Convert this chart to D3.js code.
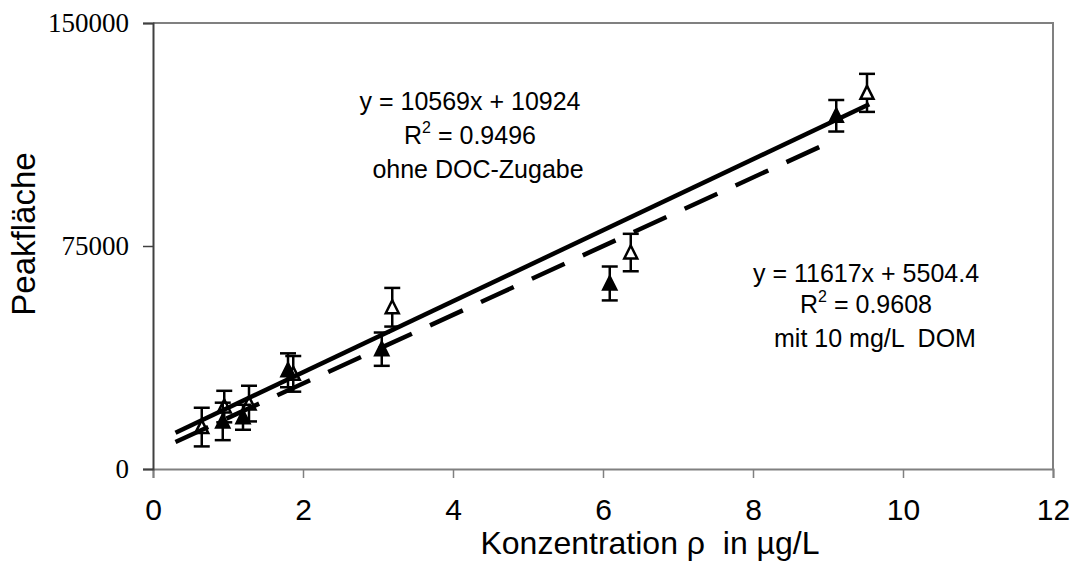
<!DOCTYPE html>
<html>
<head>
<meta charset="utf-8">
<script src="https://cdn.jsdelivr.net/npm/d3@7"></script>
<style>
  body { margin: 0; background: #fff; }
  text { fill: #000; }
</style>
</head>
<body>
<div id="chart"></div>
<script>
const mitX = [0.93, 1.2, 1.8, 3.05, 6.09, 9.11]
const mitY = [16000, 17400, 33200, 40300, 62400, 118800]
const mitErr = [6300, 4200, 5700, 5600, 5700, 5300]

const ohneX = [0.65, 0.95, 1.28, 1.87, 3.19, 6.37, 9.52]
const ohneY = [14100, 21000, 22000, 32000, 54400, 72800, 126500]
const ohneErr = [6500, 5300, 6000, 6000, 6500, 6300, 6400]

// trendline end points
const solidX = [0.3, 9.55]
const solidY = [12200, 122700]
const dashX = [0.3, 9.12]
const dashY = [9100, 111000]

const xTicks = [0, 2, 4, 6, 8, 10, 12]
const yTicks = [0, 75000, 150000]

const width = 1071
const height = 563
const plotLeft = 153, plotRight = 1053, plotTop = 23, plotBottom = 469

const xScale = d3.scaleLinear().domain([0, 12]).range([plotLeft, plotRight])
const yScale = d3.scaleLinear().domain([0, 150000]).range([plotBottom, plotTop])

const svg = d3.select('#chart')
	.append('svg')
	.attr('width', width)
	.attr('height', height)

// frame top/right
svg.append('path')
	.attr('d', `M${plotLeft},${plotTop}H${plotRight}V${plotBottom}`)
	.attr('fill', 'none')
	.attr('stroke', '#808080')
	.attr('stroke-width', 2)

const xAxis = d3.axisBottom(xScale).tickValues(xTicks).tickSize(9).tickPadding(21)
const yAxis = d3.axisLeft(yScale).tickValues(yTicks).tickSize(10).tickPadding(14)
	.tickFormat(d3.format('d'))

const gx = svg.append('g')
	.attr('class', 'x-axis')
	.attr('transform', `translate(0 ${plotBottom})`)
	.call(xAxis)
gx.select('.domain').attr('stroke', '#808080').attr('stroke-width', 2)
gx.selectAll('.tick line').attr('stroke', '#808080').attr('stroke-width', 1.5)
gx.selectAll('.tick text')
	.attr('font-family', 'Liberation Sans, Arial, sans-serif')
	.attr('font-size', 30)
	.attr('fill', '#000')

const gy = svg.append('g')
	.attr('class', 'y-axis')
	.attr('transform', `translate(${plotLeft} 0)`)
	.call(yAxis)
gy.select('.domain').attr('stroke', '#404040').attr('stroke-width', 2)
gy.selectAll('.tick line').attr('stroke', '#404040').attr('stroke-width', 1.5)
gy.selectAll('.tick text')
	.attr('font-family', 'Liberation Serif, Times New Roman, serif')
	.attr('font-size', 27)
	.attr('fill', '#000')

// axis titles
svg.append('text')
	.attr('transform', `translate(35 234) rotate(-90)`)
	.attr('text-anchor', 'middle')
	.attr('font-family', 'Liberation Sans, Arial, sans-serif')
	.attr('font-size', 33)
	.text('Peakfläche')

svg.append('text')
	.attr('x', 650)
	.attr('y', 554)
	.attr('text-anchor', 'middle')
	.attr('font-family', 'Liberation Sans, Arial, sans-serif')
	.attr('font-size', 32)
	.attr('xml:space', 'preserve')
	.text('Konzentration ρ  in µg/L')

// error bars + markers
function series(xs, ys, errs, filled, cls) {
	const data = xs.map((x, i) => ({ x: x, y: ys[i], e: errs[i] }))
	const g = svg.append('g').attr('class', cls)
	const cap = 8
	const bars = g.selectAll('g.bar').data(data).join('g').attr('class', 'bar')
	bars.append('line')
		.attr('x1', d => xScale(d.x)).attr('x2', d => xScale(d.x))
		.attr('y1', d => yScale(d.y + d.e)).attr('y2', d => yScale(d.y - d.e))
	bars.append('line')
		.attr('x1', d => xScale(d.x) - cap).attr('x2', d => xScale(d.x) + cap)
		.attr('y1', d => yScale(d.y + d.e)).attr('y2', d => yScale(d.y + d.e))
	bars.append('line')
		.attr('x1', d => xScale(d.x) - cap).attr('x2', d => xScale(d.x) + cap)
		.attr('y1', d => yScale(d.y - d.e)).attr('y2', d => yScale(d.y - d.e))
	bars.selectAll('line').attr('stroke', '#000').attr('stroke-width', 2.5)

	g.selectAll('path.mk').data(data).join('path')
		.attr('class', 'mk')
		.attr('d', d => {
			const cx = xScale(d.x), cy = yScale(d.y)
			return `M${cx},${cy - 7}L${cx + 6.5},${cy + 6}L${cx - 6.5},${cy + 6}Z`
		})
		.attr('fill', filled ? '#000' : '#fff')
		.attr('stroke', '#000')
		.attr('stroke-width', 2.5)
		.attr('stroke-linejoin', 'miter')
}

series(ohneX, ohneY, ohneErr, false, 'ohne')
series(mitX, mitY, mitErr, true, 'mit')

// trendlines
svg.append('line')
	.attr('x1', xScale(dashX[0])).attr('y1', yScale(dashY[0]))
	.attr('x2', xScale(dashX[1])).attr('y2', yScale(dashY[1]))
	.attr('stroke', '#000')
	.attr('stroke-width', 4.5)
	.attr('stroke-dasharray', '36,20')

svg.append('line')
	.attr('x1', xScale(solidX[0])).attr('y1', yScale(solidY[0]))
	.attr('x2', xScale(solidX[1])).attr('y2', yScale(solidY[1]))
	.attr('stroke', '#000')
	.attr('stroke-width', 4.5)

// equation labels
const labelFont = 'Liberation Sans, Arial, sans-serif'
function eqLabel(cx, lines) {
	lines.forEach(l => {
		const t = svg.append('text')
			.attr('x', cx + (l.dx || 0))
			.attr('y', l.y)
			.attr('text-anchor', 'middle')
			.attr('font-family', labelFont)
			.attr('font-size', 25)
			.attr('xml:space', 'preserve')
		if (l.sup) {
			t.append('tspan').text('R')
			t.append('tspan').attr('dy', -11).attr('font-size', 16).text('2')
			t.append('tspan').attr('dy', 11).text(l.text)
		} else {
			t.text(l.text)
		}
	})
}

eqLabel(470, [
	{ y: 110, text: 'y = 10569x + 10924' },
	{ y: 144, text: ' = 0.9496', sup: true },
	{ y: 178, text: 'ohne DOC-Zugabe', dx: 8 }
])

eqLabel(866, [
	{ y: 282, text: 'y = 11617x + 5504.4' },
	{ y: 313, text: ' = 0.9608', sup: true },
	{ y: 347, text: 'mit 10 mg/L  DOM', dx: 9 }
])
</script>
</body>
</html>
